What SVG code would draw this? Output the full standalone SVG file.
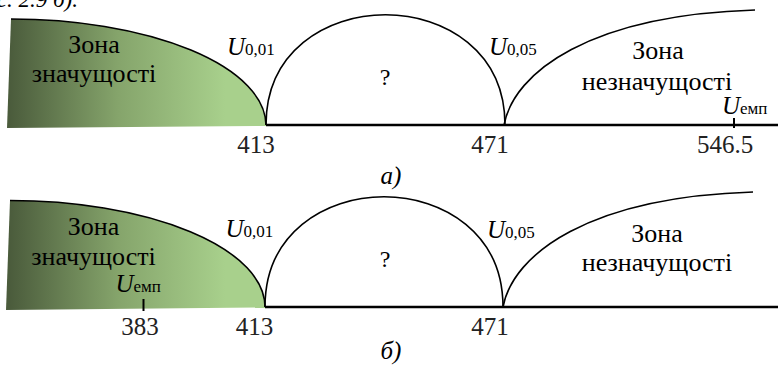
<svg xmlns="http://www.w3.org/2000/svg" width="778" height="368" viewBox="0 0 778 368">
<style>
text{font-family:"Liberation Serif","Times New Roman",serif;fill:#000}
.zl{font-size:26px;text-anchor:middle}
.num{font-size:25px;text-anchor:middle;fill:#222}
.it{font-style:italic}
.sub{font-size:17px;font-style:normal}
.curve{fill:none;stroke:#000;stroke-width:1.6}
.axis{stroke:#000;stroke-width:2.6}
.tick{stroke:#000;stroke-width:2}
</style>
<defs>
<linearGradient id="gr" gradientUnits="userSpaceOnUse" x1="10" y1="0" x2="225" y2="0">
<stop offset="0" stop-color="#4b5c3c"/>
<stop offset="0.5" stop-color="#85a46b"/>
<stop offset="1" stop-color="#a8d08c"/>
</linearGradient>
</defs>
<text class="it" x="78" y="7" font-size="23" text-anchor="end">(рис. 2.9 б).</text>

<g id="panel-a">
  <g id="a-zone-significant">
    <path d="M7,128 L11,19 A255,106.5 0 0 1 266,126 Z" fill="url(#gr)"/>
    <path class="curve" d="M11,19 A255,106.5 0 0 1 266,125"/>
    <text class="zl" x="94" y="53">Зона</text>
    <text class="zl" x="94" y="82">значущості</text>
  </g>
  <g id="a-zone-unknown">
    <path class="curve" d="M266,125 C266,-22 505,-22 505,125"/>
    <text x="385" y="85" font-size="24" text-anchor="middle">?</text>
  </g>
  <g id="a-zone-insignificant">
    <path class="curve" d="M504,125 C514,72 590,15 755,10"/>
    <text class="zl" x="658" y="59">Зона</text>
    <text class="zl" x="657" y="90">незначущості</text>
  </g>
  <g id="a-labels">
    <text x="227" y="55" font-size="25"><tspan class="it">U</tspan><tspan class="sub">0,01</tspan></text>
    <text x="489" y="55" font-size="25"><tspan class="it">U</tspan><tspan class="sub">0,05</tspan></text>
    <text x="722" y="114" font-size="25"><tspan class="it">U</tspan><tspan class="sub">емп</tspan></text>
    <text class="num" x="256" y="153">413</text>
    <text class="num" x="490" y="153" fill="#333">471</text>
    <text class="num" x="725" y="153">546.5</text>
    <text class="it" x="391" y="184" font-size="25" text-anchor="middle">а)</text>
  </g>
</g>

<g id="panel-b">
  <g id="b-zone-significant">
    <path d="M6,310 L10,200.5 A255,106.5 0 0 1 265,307.5 Z" fill="url(#gr)"/>
    <path class="curve" d="M10,200.5 A255,106.5 0 0 1 265,307"/>
    <text class="zl" x="93.5" y="235">Зона</text>
    <text class="zl" x="93.5" y="265">значущості</text>
  </g>
  <g id="b-zone-unknown">
    <path class="curve" d="M265,307 C265,160 503,160 503,307"/>
    <text x="385" y="267" font-size="24" text-anchor="middle">?</text>
  </g>
  <g id="b-zone-insignificant">
    <path class="curve" d="M503,307 C513,254 589,197 753,192"/>
    <text class="zl" x="657" y="242">Зона</text>
    <text class="zl" x="657" y="271">незначущості</text>
  </g>
  <g id="b-labels">
    <text x="225.5" y="237" font-size="25"><tspan class="it">U</tspan><tspan class="sub">0,01</tspan></text>
    <text x="487" y="238" font-size="25"><tspan class="it">U</tspan><tspan class="sub">0,05</tspan></text>
    <text x="115.5" y="292" font-size="25"><tspan class="it">U</tspan><tspan class="sub">емп</tspan></text>
    <text class="num" x="140" y="335">383</text>
    <text class="num" x="254.5" y="335">413</text>
    <text class="num" x="490" y="335" fill="#333">471</text>
    <text class="it" x="391" y="359" font-size="25" text-anchor="middle">б)</text>
  </g>
</g>

<g id="connectors">
  <line class="axis" x1="266" y1="125" x2="778" y2="125"/>
  <line class="tick" x1="734" y1="118" x2="734" y2="128"/>
  <line class="axis" x1="265" y1="307" x2="778" y2="307"/>
  <line class="tick" x1="143.5" y1="299" x2="143.5" y2="311"/>
</g>
</svg>
